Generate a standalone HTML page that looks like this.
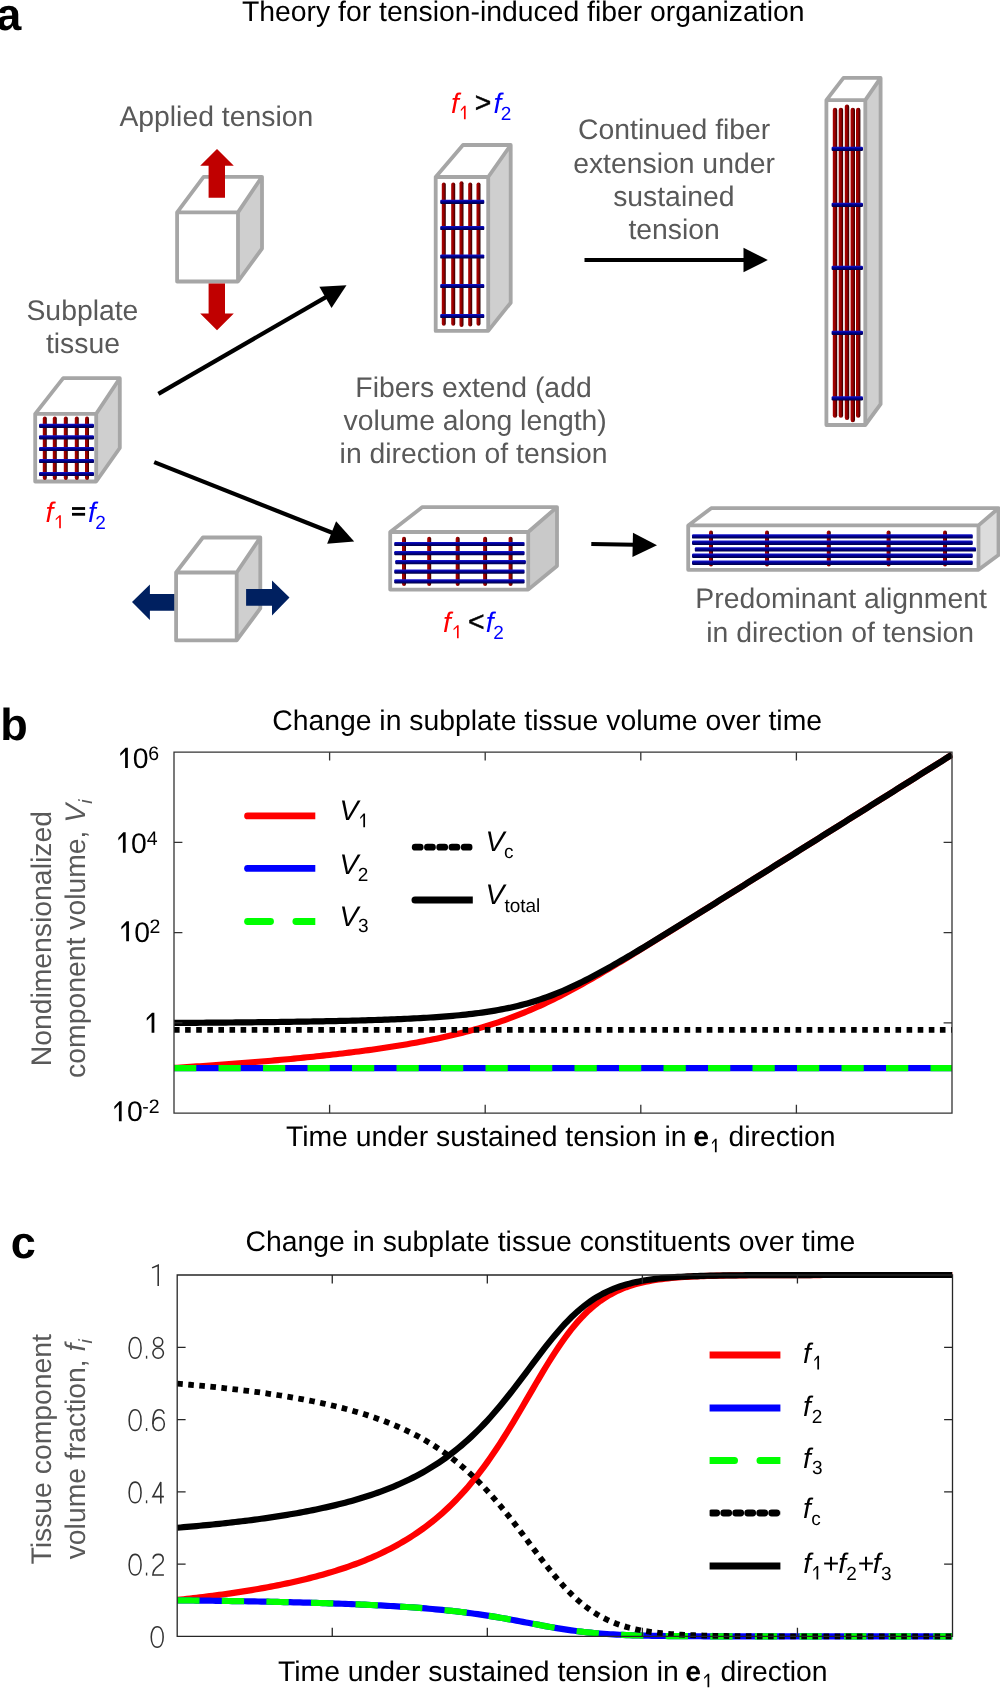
<!DOCTYPE html>
<html><head><meta charset="utf-8"><title>Figure</title>
<style>
html,body{margin:0;padding:0;background:#fff;}
svg{display:block;font-family:"Liberation Sans", sans-serif;will-change:transform;text-rendering:geometricPrecision;}
</style></head>
<body>
<svg width="1000" height="1688" viewBox="0 0 1000 1688">
<rect width="1000" height="1688" fill="#fff"/>
<defs>
<linearGradient id="gr" x1="0" y1="0" x2="1" y2="0">
<stop offset="0" stop-color="#a00000"/><stop offset="0.3" stop-color="#a80000"/><stop offset="0.65" stop-color="#7a0000"/><stop offset="1" stop-color="#2a0000"/>
</linearGradient>
<linearGradient id="gb" x1="0" y1="0" x2="0" y2="1">
<stop offset="0" stop-color="#1818d0"/><stop offset="0.4" stop-color="#00009a"/><stop offset="1" stop-color="#000040"/>
</linearGradient>
</defs>
<text x="-3.7" y="30.2" font-size="45" fill="#000" font-weight="bold">a</text>
<text x="242.03" y="21" font-size="28.35" fill="#000">Theory for tension-induced fiber organization</text>
<text x="119.4" y="125.5" font-size="28.35" fill="#595959">Applied tension</text>
<text x="578.08" y="138.6" font-size="28.35" fill="#595959">Continued fiber</text>
<text x="573.17" y="172.6" font-size="28.35" fill="#595959">extension under</text>
<text x="613.15" y="205.8" font-size="28.35" fill="#595959">sustained</text>
<text x="628.43" y="239.1" font-size="28.35" fill="#595959">tension</text>
<text x="26.48" y="320.4" font-size="28.35" fill="#595959">Subplate</text>
<text x="45.93" y="353.3" font-size="28.35" fill="#595959">tissue</text>
<text x="355.33" y="397.3" font-size="28.35" fill="#595959">Fibers extend (add</text>
<text x="343.62" y="430.4" font-size="28.35" fill="#595959">volume along length)</text>
<text x="339.62" y="463.2" font-size="28.35" fill="#595959">in direction of tension</text>
<text x="695.33" y="608.2" font-size="28.35" fill="#595959">Predominant alignment</text>
<text x="706.22" y="641.8" font-size="28.35" fill="#595959">in direction of tension</text>
<text x="451.04" y="112.5" font-size="28.35" fill="#ff0000" font-style="italic">f</text>
<polygon points="465.65,119.15 465.65,105.85 464.2,105.85 460.85,109.44 460.85,111.14 463.95,107.95 463.95,119.15" fill="#ff0000"/>
<text x="474.8" y="111.7" font-size="28.35" fill="#000" stroke="#000" stroke-width="0.45">&gt;</text>
<text x="493.54" y="112.5" font-size="28.35" fill="#0000ff" font-style="italic">f</text>
<text x="500.84" y="119.5" font-size="19" fill="#0000ff">2</text>
<text x="45.54" y="522" font-size="28.35" fill="#ff0000" font-style="italic">f</text>
<polygon points="60.85,528.15 60.85,515.15 59.44,515.15 55.75,518.66 55.75,520.32 59.19,517.2 59.19,528.15" fill="#ff0000"/>
<rect x="72" y="507.1" width="13.1" height="2.8" fill="#000"/>
<rect x="72" y="512.9" width="13.1" height="2.8" fill="#000"/>
<text x="88.04" y="522" font-size="28.35" fill="#0000ff" font-style="italic">f</text>
<text x="95.34" y="528.5" font-size="19" fill="#0000ff">2</text>
<text x="443.04" y="632" font-size="28.35" fill="#ff0000" font-style="italic">f</text>
<polygon points="458.65,638.15 458.65,625.15 457.24,625.15 453.55,628.66 453.55,630.32 456.99,627.2 456.99,638.15" fill="#ff0000"/>
<text x="468" y="631.2" font-size="28.35" fill="#000" stroke="#000" stroke-width="0.45">&lt;</text>
<text x="485.84" y="632" font-size="28.35" fill="#0000ff" font-style="italic">f</text>
<text x="493.14" y="638.5" font-size="19" fill="#0000ff">2</text>
<polygon points="177.1,212.4 203.6,176.8 262,176.8 238,212.4" fill="#fff"/>
<polygon points="238,212.4 262,176.8 262,248.6 238,281.5" fill="#cfcfcf"/>
<rect x="177.1" y="212.4" width="60.9" height="69.1" fill="#fff"/>
<path d="M177.1,281.5 L177.1,212.4 L203.6,176.8 L262,176.8 L262,248.6 L238,281.5 Z M177.1,212.4 L238,212.4 L238,281.5 M238,212.4 L262,176.8" fill="none" stroke="#a6a6a6" stroke-width="3.8" stroke-linejoin="round"/>
<polygon points="217,149 233.8,165.8 225,165.8 225,197.8 208.6,197.8 208.6,165.8 200.2,165.8" fill="#c00000"/>
<polygon points="208.6,283.4 225,283.4 225,313.4 233.8,313.4 217,330.2 200.2,313.4 208.6,313.4" fill="#c00000"/>
<polygon points="35.2,413.8 63.2,378.2 119.8,378.2 96.2,413.8" fill="#fff"/>
<polygon points="96.2,413.8 119.8,378.2 119.8,448 96.2,481.5" fill="#cfcfcf"/>
<rect x="35.2" y="413.8" width="61" height="67.7" fill="#fff"/>
<path d="M35.2,481.5 L35.2,413.8 L63.2,378.2 L119.8,378.2 L119.8,448 L96.2,481.5 Z M35.2,413.8 L96.2,413.8 L96.2,481.5 M96.2,413.8 L119.8,378.2" fill="none" stroke="#a6a6a6" stroke-width="3.8" stroke-linejoin="round"/>
<rect x="42.8" y="416.5" width="4" height="63.5" rx="2" fill="url(#gr)"/>
<rect x="52.8" y="416.5" width="4" height="63.5" rx="2" fill="url(#gr)"/>
<rect x="63.8" y="416.5" width="4" height="63.5" rx="2" fill="url(#gr)"/>
<rect x="74.8" y="416.5" width="4" height="63.5" rx="2" fill="url(#gr)"/>
<rect x="85" y="416.5" width="4" height="63.5" rx="2" fill="url(#gr)"/>
<rect x="39" y="423.7" width="55" height="4.2" rx="1.2" fill="url(#gb)"/>
<rect x="39" y="435.2" width="55" height="4.2" rx="1.2" fill="url(#gb)"/>
<rect x="39" y="446.9" width="55" height="4.2" rx="1.2" fill="url(#gb)"/>
<rect x="39" y="458.9" width="55" height="4.2" rx="1.2" fill="url(#gb)"/>
<rect x="39" y="471.9" width="55" height="4.2" rx="1.2" fill="url(#gb)"/>
<polygon points="435.7,177 463,145 510.7,145 488.2,177" fill="#fff"/>
<polygon points="488.2,177 510.7,145 510.7,302.7 488.2,330.9" fill="#cfcfcf"/>
<rect x="435.7" y="177" width="52.5" height="153.9" fill="#fff"/>
<path d="M435.7,330.9 L435.7,177 L463,145 L510.7,145 L510.7,302.7 L488.2,330.9 Z M435.7,177 L488.2,177 L488.2,330.9 M488.2,177 L510.7,145" fill="none" stroke="#a6a6a6" stroke-width="3.8" stroke-linejoin="round"/>
<rect x="441.8" y="182.4" width="4" height="143.4" rx="2" fill="url(#gr)"/>
<rect x="451.2" y="182.4" width="4" height="143.4" rx="2" fill="url(#gr)"/>
<rect x="459.5" y="181.2" width="4" height="145.8" rx="2" fill="url(#gr)"/>
<rect x="468.2" y="182.4" width="4" height="144.1" rx="2" fill="url(#gr)"/>
<rect x="476.5" y="182.4" width="4" height="143.4" rx="2" fill="url(#gr)"/>
<rect x="440.2" y="199.7" width="44.1" height="4.2" rx="1.2" fill="url(#gb)"/>
<rect x="440.2" y="225.9" width="44.1" height="4.2" rx="1.2" fill="url(#gb)"/>
<rect x="440.2" y="254.4" width="44.1" height="4.2" rx="1.2" fill="url(#gb)"/>
<rect x="440.2" y="283.9" width="44.1" height="4.2" rx="1.2" fill="url(#gb)"/>
<rect x="440.2" y="313.9" width="44.1" height="4.2" rx="1.2" fill="url(#gb)"/>
<polygon points="826.4,100.1 843.5,77.9 880.6,77.9 865.3,100.1" fill="#fff"/>
<polygon points="865.3,100.1 880.6,77.9 880.6,404.2 865.3,425" fill="#cfcfcf"/>
<rect x="826.4" y="100.1" width="38.9" height="324.9" fill="#fff"/>
<path d="M826.4,425 L826.4,100.1 L843.5,77.9 L880.6,77.9 L880.6,404.2 L865.3,425 Z M826.4,100.1 L865.3,100.1 L865.3,425 M865.3,100.1 L880.6,77.9" fill="none" stroke="#a6a6a6" stroke-width="3.8" stroke-linejoin="round"/>
<rect x="832.8" y="107.8" width="4.4" height="309.9" rx="2.2" fill="url(#gr)"/>
<rect x="838.7" y="107.8" width="4.4" height="309.9" rx="2.2" fill="url(#gr)"/>
<rect x="844.8" y="104.5" width="4.4" height="315.5" rx="2.2" fill="url(#gr)"/>
<rect x="850.6" y="107.8" width="4.4" height="314.4" rx="2.2" fill="url(#gr)"/>
<rect x="856" y="107.8" width="4.4" height="309.9" rx="2.2" fill="url(#gr)"/>
<rect x="831.6" y="146.8" width="31.4" height="4.2" rx="1.2" fill="url(#gb)"/>
<rect x="831.6" y="202.7" width="31.4" height="4.2" rx="1.2" fill="url(#gb)"/>
<rect x="831.6" y="265.8" width="31.4" height="4.2" rx="1.2" fill="url(#gb)"/>
<rect x="831.6" y="330.7" width="31.4" height="4.2" rx="1.2" fill="url(#gb)"/>
<rect x="831.6" y="396.3" width="31.4" height="4.2" rx="1.2" fill="url(#gb)"/>
<polygon points="390.2,532 422.4,507.1 557,507.1 528.2,532" fill="#fff"/>
<polygon points="528.2,532 557,507.1 557,566 528.2,589.6" fill="#c9c9c9"/>
<rect x="390.2" y="532" width="138" height="57.6" fill="#fff"/>
<path d="M390.2,589.6 L390.2,532 L422.4,507.1 L557,507.1 L557,566 L528.2,589.6 Z M390.2,532 L528.2,532 L528.2,589.6 M528.2,532 L557,507.1" fill="none" stroke="#a6a6a6" stroke-width="3.8" stroke-linejoin="round"/>
<rect x="402" y="536.8" width="4" height="49.2" rx="2" fill="url(#gr)"/>
<rect x="427.2" y="536.8" width="4" height="49.2" rx="2" fill="url(#gr)"/>
<rect x="455.7" y="536.8" width="4" height="49.2" rx="2" fill="url(#gr)"/>
<rect x="483.1" y="536.8" width="4" height="49.2" rx="2" fill="url(#gr)"/>
<rect x="508.6" y="536.8" width="4" height="49.2" rx="2" fill="url(#gr)"/>
<rect x="394.2" y="541.9" width="130.4" height="4.2" rx="1.2" fill="url(#gb)"/>
<rect x="394.2" y="551.1" width="130.4" height="4.2" rx="1.2" fill="url(#gb)"/>
<rect x="395.2" y="560.1" width="130.7" height="4.2" rx="1.2" fill="url(#gb)"/>
<rect x="394.2" y="569.5" width="130.4" height="4.2" rx="1.2" fill="url(#gb)"/>
<rect x="394.2" y="579.3" width="130.4" height="4.2" rx="1.2" fill="url(#gb)"/>
<polygon points="688.2,525.4 711.2,508.2 998.5,508.2 978.5,525.4" fill="#fff"/>
<polygon points="978.5,525.4 998.5,508.2 998.5,555 978.5,569.8" fill="#dcdcdc"/>
<rect x="688.2" y="525.4" width="290.3" height="44.4" fill="#fff"/>
<path d="M688.2,569.8 L688.2,525.4 L711.2,508.2 L998.5,508.2 L998.5,555 L978.5,569.8 Z M688.2,525.4 L978.5,525.4 L978.5,569.8 M978.5,525.4 L998.5,508.2" fill="none" stroke="#a6a6a6" stroke-width="3.8" stroke-linejoin="round"/>
<rect x="709" y="530.4" width="4" height="36.1" rx="2" fill="url(#gr)"/>
<rect x="765" y="530.4" width="4" height="36.1" rx="2" fill="url(#gr)"/>
<rect x="826.8" y="530.4" width="4" height="36.1" rx="2" fill="url(#gr)"/>
<rect x="886.6" y="530.4" width="4" height="36.1" rx="2" fill="url(#gr)"/>
<rect x="943" y="530.4" width="4" height="36.1" rx="2" fill="url(#gr)"/>
<rect x="692" y="534.2" width="280.8" height="4.4" rx="1.2" fill="url(#gb)"/>
<rect x="692" y="540.6" width="280.8" height="4.4" rx="1.2" fill="url(#gb)"/>
<rect x="694.8" y="547.2" width="281.2" height="4.4" rx="1.2" fill="url(#gb)"/>
<rect x="692" y="553.6" width="280.8" height="4.4" rx="1.2" fill="url(#gb)"/>
<rect x="692" y="560.6" width="280.8" height="4.4" rx="1.2" fill="url(#gb)"/>
<polygon points="132,601.9 149.9,584.4 149.9,593.9 178,593.9 178,610.7 149.9,610.7 149.9,620.1" fill="#002060"/>
<polygon points="176.1,572.5 202.9,537.5 260.3,537.5 236.7,572.5" fill="#fff"/>
<polygon points="236.7,572.5 260.3,537.5 260.3,608.4 236.7,640.4" fill="#cfcfcf"/>
<rect x="176.1" y="572.5" width="60.6" height="67.9" fill="#fff"/>
<path d="M176.1,640.4 L176.1,572.5 L202.9,537.5 L260.3,537.5 L260.3,608.4 L236.7,640.4 Z M176.1,572.5 L236.7,572.5 L236.7,640.4 M236.7,572.5 L260.3,537.5" fill="none" stroke="#a6a6a6" stroke-width="3.8" stroke-linejoin="round"/>
<polygon points="246.1,589.1 272,589.1 272,580.4 289.5,597.5 272,615.4 272,605.8 246.1,605.8" fill="#002060"/>
<line x1="158.4" y1="393.9" x2="327.19" y2="296.36" stroke="#000" stroke-width="4.2"/>
<polygon points="346.5,285.2 331.54,307.88 319.38,286.84" fill="#000"/>
<line x1="154.2" y1="462.1" x2="333.47" y2="533.27" stroke="#000" stroke-width="4.2"/>
<polygon points="354.2,541.5 327.13,543.83 336.1,521.24" fill="#000"/>
<line x1="584.5" y1="260" x2="745.5" y2="260" stroke="#000" stroke-width="4.2"/>
<polygon points="767.8,260 743.5,272.15 743.5,247.85" fill="#000"/>
<line x1="591.3" y1="543.9" x2="634.71" y2="544.82" stroke="#000" stroke-width="4.0"/>
<polygon points="657,545.3 632.45,556.93 632.96,532.64" fill="#000"/>
<text x="0.33" y="740.2" font-size="45" fill="#000" font-weight="bold">b</text>
<text x="272.18" y="729.5" font-size="28.35" fill="#000">Change in subplate tissue volume over time</text>
<clipPath id="cb"><rect x="174.0" y="751.7" width="778.5" height="362.0"/></clipPath>
<g clip-path="url(#cb)">
<path d="M174,1067.89 L177.24,1067.69 L180.48,1067.48 L183.72,1067.27 L186.97,1067.06 L190.21,1066.84 L193.45,1066.63 L196.69,1066.41 L199.93,1066.19 L203.18,1065.96 L206.42,1065.74 L209.66,1065.51 L212.9,1065.28 L216.14,1065.05 L219.38,1064.82 L222.62,1064.58 L225.87,1064.34 L229.11,1064.1 L232.35,1063.85 L235.59,1063.6 L238.83,1063.35 L242.07,1063.1 L245.32,1062.84 L248.56,1062.59 L251.8,1062.32 L255.04,1062.06 L258.28,1061.79 L261.52,1061.52 L264.77,1061.24 L268.01,1060.96 L271.25,1060.68 L274.49,1060.4 L277.73,1060.11 L280.98,1059.82 L284.22,1059.52 L287.46,1059.22 L290.7,1058.92 L293.94,1058.61 L297.18,1058.29 L300.43,1057.98 L303.67,1057.66 L306.91,1057.33 L310.15,1057 L313.39,1056.67 L316.63,1056.33 L319.88,1055.98 L323.12,1055.63 L326.36,1055.28 L329.6,1054.92 L332.84,1054.55 L336.08,1054.18 L339.32,1053.8 L342.57,1053.42 L345.81,1053.03 L349.05,1052.63 L352.29,1052.23 L355.53,1051.82 L358.77,1051.4 L362.02,1050.98 L365.26,1050.55 L368.5,1050.11 L371.74,1049.67 L374.98,1049.21 L378.23,1048.75 L381.47,1048.28 L384.71,1047.8 L387.95,1047.31 L391.19,1046.81 L394.43,1046.3 L397.67,1045.79 L400.92,1045.26 L404.16,1044.72 L407.4,1044.17 L410.64,1043.61 L413.88,1043.03 L417.12,1042.45 L420.37,1041.85 L423.61,1041.24 L426.85,1040.61 L430.09,1039.97 L433.33,1039.32 L436.58,1038.65 L439.82,1037.96 L443.06,1037.26 L446.3,1036.55 L449.54,1035.81 L452.78,1035.06 L456.02,1034.29 L459.27,1033.5 L462.51,1032.69 L465.75,1031.86 L468.99,1031.01 L472.23,1030.13 L475.48,1029.24 L478.72,1028.32 L481.96,1027.37 L485.2,1026.41 L488.44,1025.41 L491.68,1024.39 L494.92,1023.35 L498.17,1022.27 L501.41,1021.17 L504.65,1020.04 L507.89,1018.88 L511.13,1017.69 L514.38,1016.47 L517.62,1015.22 L520.86,1013.94 L524.1,1012.63 L527.34,1011.29 L530.58,1009.91 L533.83,1008.51 L537.07,1007.07 L540.31,1005.6 L543.55,1004.11 L546.79,1002.58 L550.03,1001.02 L553.27,999.44 L556.52,997.82 L559.76,996.18 L563,994.52 L566.24,992.82 L569.48,991.11 L572.72,989.37 L575.97,987.61 L579.21,985.83 L582.45,984.03 L585.69,982.21 L588.93,980.37 L592.17,978.52 L595.42,976.66 L598.66,974.77 L601.9,972.88 L605.14,970.97 L608.38,969.06 L611.62,967.13 L614.87,965.19 L618.11,963.25 L621.35,961.29 L624.59,959.33 L627.83,957.36 L631.08,955.39 L634.32,953.41 L637.56,951.43 L640.8,949.44 L644.04,947.44 L647.28,945.45 L650.53,943.45 L653.77,941.44 L657.01,939.44 L660.25,937.43 L663.49,935.42 L666.73,933.4 L669.97,931.39 L673.22,929.37 L676.46,927.35 L679.7,925.33 L682.94,923.31 L686.18,921.29 L689.42,919.26 L692.67,917.24 L695.91,915.21 L699.15,913.19 L702.39,911.16 L705.63,909.13 L708.88,907.11 L712.12,905.08 L715.36,903.05 L718.6,901.02 L721.84,898.99 L725.08,896.96 L728.33,894.93 L731.57,892.9 L734.81,890.87 L738.05,888.84 L741.29,886.8 L744.53,884.77 L747.78,882.74 L751.02,880.71 L754.26,878.68 L757.5,876.64 L760.74,874.61 L763.98,872.58 L767.22,870.55 L770.47,868.51 L773.71,866.48 L776.95,864.45 L780.19,862.42 L783.43,860.38 L786.67,858.35 L789.92,856.32 L793.16,854.29 L796.4,852.25 L799.64,850.22 L802.88,848.19 L806.12,846.15 L809.37,844.12 L812.61,842.09 L815.85,840.05 L819.09,838.02 L822.33,835.99 L825.58,833.96 L828.82,831.92 L832.06,829.89 L835.3,827.86 L838.54,825.82 L841.78,823.79 L845.03,821.76 L848.27,819.72 L851.51,817.69 L854.75,815.66 L857.99,813.62 L861.23,811.59 L864.47,809.56 L867.72,807.52 L870.96,805.49 L874.2,803.46 L877.44,801.42 L880.68,799.39 L883.92,797.36 L887.17,795.32 L890.41,793.29 L893.65,791.26 L896.89,789.22 L900.13,787.19 L903.38,785.16 L906.62,783.13 L909.86,781.09 L913.1,779.06 L916.34,777.03 L919.58,774.99 L922.83,772.96 L926.07,770.93 L929.31,768.89 L932.55,766.86 L935.79,764.83 L939.03,762.79 L942.28,760.76 L945.52,758.73 L948.76,756.69 L952,754.66" fill="none" stroke="#ff0000" stroke-width="6.1"/>
<line x1="174.0" y1="1068.08" x2="952.0" y2="1068.08" stroke="#0000ff" stroke-width="6.2"/>
<line x1="174.0" y1="1068.08" x2="952.0" y2="1068.08" stroke="#00ff00" stroke-width="6.2" stroke-dasharray="22.25 22.25"/>
<line x1="174.0" y1="1029.94" x2="952.0" y2="1029.94" stroke="#000" stroke-width="5.8" stroke-dasharray="5.6 5.5"/>
<path d="M174,1022.93 L177.24,1022.91 L180.48,1022.89 L183.72,1022.87 L186.97,1022.85 L190.21,1022.82 L193.45,1022.8 L196.69,1022.78 L199.93,1022.75 L203.18,1022.73 L206.42,1022.7 L209.66,1022.68 L212.9,1022.65 L216.14,1022.63 L219.38,1022.6 L222.62,1022.57 L225.87,1022.54 L229.11,1022.51 L232.35,1022.48 L235.59,1022.45 L238.83,1022.42 L242.07,1022.39 L245.32,1022.36 L248.56,1022.33 L251.8,1022.29 L255.04,1022.26 L258.28,1022.22 L261.52,1022.19 L264.77,1022.15 L268.01,1022.11 L271.25,1022.07 L274.49,1022.03 L277.73,1021.99 L280.98,1021.95 L284.22,1021.91 L287.46,1021.86 L290.7,1021.82 L293.94,1021.77 L297.18,1021.72 L300.43,1021.67 L303.67,1021.62 L306.91,1021.57 L310.15,1021.52 L313.39,1021.46 L316.63,1021.4 L319.88,1021.34 L323.12,1021.28 L326.36,1021.22 L329.6,1021.16 L332.84,1021.09 L336.08,1021.03 L339.32,1020.96 L342.57,1020.88 L345.81,1020.81 L349.05,1020.73 L352.29,1020.65 L355.53,1020.57 L358.77,1020.48 L362.02,1020.4 L365.26,1020.3 L368.5,1020.21 L371.74,1020.11 L374.98,1020.01 L378.23,1019.91 L381.47,1019.8 L384.71,1019.68 L387.95,1019.57 L391.19,1019.44 L394.43,1019.32 L397.67,1019.18 L400.92,1019.05 L404.16,1018.9 L407.4,1018.76 L410.64,1018.6 L413.88,1018.44 L417.12,1018.27 L420.37,1018.09 L423.61,1017.91 L426.85,1017.72 L430.09,1017.52 L433.33,1017.31 L436.58,1017.09 L439.82,1016.86 L443.06,1016.61 L446.3,1016.36 L449.54,1016.1 L452.78,1015.82 L456.02,1015.52 L459.27,1015.22 L462.51,1014.89 L465.75,1014.56 L468.99,1014.2 L472.23,1013.82 L475.48,1013.43 L478.72,1013.01 L481.96,1012.58 L485.2,1012.11 L488.44,1011.63 L491.68,1011.12 L494.92,1010.58 L498.17,1010.01 L501.41,1009.42 L504.65,1008.79 L507.89,1008.13 L511.13,1007.43 L514.38,1006.7 L517.62,1005.93 L520.86,1005.12 L524.1,1004.28 L527.34,1003.39 L530.58,1002.46 L533.83,1001.49 L537.07,1000.47 L540.31,999.41 L543.55,998.31 L546.79,997.16 L550.03,995.97 L553.27,994.73 L556.52,993.45 L559.76,992.13 L563,990.76 L566.24,989.36 L569.48,987.91 L572.72,986.42 L575.97,984.9 L579.21,983.34 L582.45,981.75 L585.69,980.12 L588.93,978.46 L592.17,976.77 L595.42,975.06 L598.66,973.32 L601.9,971.56 L605.14,969.77 L608.38,967.96 L611.62,966.13 L614.87,964.29 L618.11,962.42 L621.35,960.55 L624.59,958.66 L627.83,956.75 L631.08,954.84 L634.32,952.91 L637.56,950.97 L640.8,949.03 L644.04,947.07 L647.28,945.11 L650.53,943.14 L653.77,941.17 L657.01,939.19 L660.25,937.2 L663.49,935.21 L666.73,933.22 L669.97,931.22 L673.22,929.22 L676.46,927.22 L679.7,925.21 L682.94,923.2 L686.18,921.19 L689.42,919.18 L692.67,917.16 L695.91,915.14 L699.15,913.12 L702.39,911.1 L705.63,909.08 L708.88,907.06 L712.12,905.03 L715.36,903.01 L718.6,900.98 L721.84,898.96 L725.08,896.93 L728.33,894.9 L731.57,892.87 L734.81,890.85 L738.05,888.82 L741.29,886.79 L744.53,884.76 L747.78,882.73 L751.02,880.7 L754.26,878.67 L757.5,876.63 L760.74,874.6 L763.98,872.57 L767.22,870.54 L770.47,868.51 L773.71,866.48 L776.95,864.44 L780.19,862.41 L783.43,860.38 L786.67,858.35 L789.92,856.31 L793.16,854.28 L796.4,852.25 L799.64,850.22 L802.88,848.18 L806.12,846.15 L809.37,844.12 L812.61,842.09 L815.85,840.05 L819.09,838.02 L822.33,835.99 L825.58,833.95 L828.82,831.92 L832.06,829.89 L835.3,827.85 L838.54,825.82 L841.78,823.79 L845.03,821.76 L848.27,819.72 L851.51,817.69 L854.75,815.66 L857.99,813.62 L861.23,811.59 L864.47,809.56 L867.72,807.52 L870.96,805.49 L874.2,803.46 L877.44,801.42 L880.68,799.39 L883.92,797.36 L887.17,795.32 L890.41,793.29 L893.65,791.26 L896.89,789.22 L900.13,787.19 L903.38,785.16 L906.62,783.12 L909.86,781.09 L913.1,779.06 L916.34,777.03 L919.58,774.99 L922.83,772.96 L926.07,770.93 L929.31,768.89 L932.55,766.86 L935.79,764.83 L939.03,762.79 L942.28,760.76 L945.52,758.73 L948.76,756.69 L952,754.66" fill="none" stroke="#000" stroke-width="6.2"/>
</g>
<path d="M174.0,752.2 H952.0 V1113.2 H174.0 Z" fill="none" stroke="#333" stroke-width="1.3"/>
<path d="M329.6,1113.2 v-8.4 M329.6,752.2 v8.4 M485.2,1113.2 v-8.4 M485.2,752.2 v8.4 M640.8,1113.2 v-8.4 M640.8,752.2 v8.4 M796.4,1113.2 v-8.4 M796.4,752.2 v8.4 M174.0,842.45 h8.4 M952.0,842.45 h-8.4 M174.0,932.7 h8.4 M952.0,932.7 h-8.4 M174.0,1022.95 h8.4 M952.0,1022.95 h-8.4 " stroke="#333" stroke-width="1.3" fill="none"/>
<polygon points="127.85,768.05 127.85,747.85 125.51,747.85 120.25,753.3 120.25,756.05 125.1,751.21 125.1,768.05" fill="#000"/>
<text x="132.79" y="768.2" font-size="28.35" fill="#000">0</text>
<text x="148.31" y="759.5" font-size="19.5" fill="#000">6</text>
<polygon points="125.65,852.65 125.65,832.35 123.31,832.35 118.35,837.83 118.35,840.58 122.9,835.71 122.9,852.65" fill="#000"/>
<text x="130.89" y="853" font-size="28.35" fill="#000">0</text>
<text x="146.65" y="844.5" font-size="19.5" fill="#000">4</text>
<polygon points="128.95,941.15 128.95,921.35 126.61,921.35 121.35,926.7 121.35,929.45 126.2,924.69 126.2,941.15" fill="#000"/>
<text x="134.14" y="941.5" font-size="28.35" fill="#000">0</text>
<text x="149.52" y="932.7" font-size="19.5" fill="#000">2</text>
<polygon points="121.65,1121.15 121.65,1101.25 119.31,1101.25 114.35,1106.62 114.35,1109.37 118.9,1104.6 118.9,1121.15" fill="#000"/>
<text x="126.99" y="1121.3" font-size="28.35" fill="#000">0</text>
<text x="142.33" y="1112.7" font-size="19.5" fill="#000">-2</text>
<polygon points="154.35,1032.65 154.35,1012.65 152.01,1012.65 146.75,1018.05 146.75,1020.8 151.6,1016 151.6,1032.65" fill="#000"/>
<text transform="translate(51.2,938.7) rotate(-90)" x="0" y="0" font-size="28.35" fill="#595959" text-anchor="middle">Nondimensionalized</text>
<text transform="translate(85.4,938.7) rotate(-90)" x="0" y="0" font-size="28.35" fill="#595959" text-anchor="middle">component volume, <tspan font-style="italic">V</tspan><tspan font-style="italic" font-size="19.0" dy="6.6">i</tspan></text>
<text x="285.93" y="1146.2" font-size="28.35" fill="#000">Time under sustained tension in</text>
<text x="693.29" y="1146.2" font-size="28.35" fill="#000" font-weight="bold">e</text>
<polygon points="716.65,1152.35 716.65,1138.85 715.18,1138.85 711.95,1142.49 711.95,1144.22 714.92,1140.98 714.92,1152.35" fill="#000"/>
<text x="728.47" y="1146.2" font-size="28.35" fill="#000">direction</text>
<clipPath id="lb1"><rect x="230" y="790" width="85.3" height="150"/></clipPath>
<clipPath id="lb2"><rect x="400" y="830" width="72.8" height="90"/></clipPath>
<g clip-path="url(#lb1)" stroke-linecap="round" stroke-width="6.9" fill="none">
<line x1="247.6" y1="815.9" x2="330" y2="815.9" stroke="#ff0000"/>
<line x1="247.6" y1="868.4" x2="330" y2="868.4" stroke="#0000ff"/>
<line x1="247.6" y1="921.5" x2="330" y2="921.5" stroke="#00ff00" stroke-dasharray="22.9 25.4"/>
</g>
<g clip-path="url(#lb2)" stroke-width="7" fill="none">
<line x1="415.2" y1="847.2" x2="469.3" y2="847.2" stroke="#000" stroke-width="6.8" stroke-linecap="round" stroke-dasharray="5 7.25"/>
<line x1="415" y1="900" x2="480" y2="900" stroke="#000" stroke-linecap="round"/>
</g>
<text x="339.55" y="820.4" font-size="28.35" fill="#000" font-style="italic">V</text>
<polygon points="365.05,827.25 365.05,813.55 363.56,813.55 360.25,817.25 360.25,819 363.3,815.71 363.3,827.25" fill="#000"/>
<text x="339.55" y="874" font-size="28.35" fill="#000" font-style="italic">V</text>
<text x="357.84" y="880.9" font-size="19" fill="#000">2</text>
<text x="339.55" y="926" font-size="28.35" fill="#000" font-style="italic">V</text>
<text x="358.08" y="932" font-size="19" fill="#000">3</text>
<text x="485.55" y="850.7" font-size="28.35" fill="#000" font-style="italic">V</text>
<text x="503.99" y="858" font-size="19" fill="#000">c</text>
<text x="485.55" y="904" font-size="28.35" fill="#000" font-style="italic">V</text>
<text x="504.42" y="911.5" font-size="19" fill="#000">total</text>
<text x="10.8" y="1258" font-size="45" fill="#000" font-weight="bold">c</text>
<text x="245.58" y="1251.2" font-size="28.35" fill="#000">Change in subplate tissue constituents over time</text>
<clipPath id="cc"><rect x="177.2" y="1271.0" width="775.3" height="369.4000000000001"/></clipPath>
<g clip-path="url(#cc)">
<path d="M177.2,1599.96 L180.43,1599.61 L183.66,1599.26 L186.89,1598.9 L190.12,1598.53 L193.35,1598.16 L196.58,1597.78 L199.81,1597.4 L203.04,1597 L206.27,1596.6 L209.5,1596.2 L212.73,1595.78 L215.96,1595.35 L219.2,1594.92 L222.43,1594.48 L225.66,1594.03 L228.89,1593.57 L232.12,1593.1 L235.35,1592.62 L238.58,1592.13 L241.81,1591.64 L245.04,1591.13 L248.27,1590.61 L251.5,1590.07 L254.73,1589.53 L257.96,1588.98 L261.19,1588.41 L264.42,1587.83 L267.65,1587.24 L270.88,1586.63 L274.11,1586.01 L277.34,1585.38 L280.57,1584.73 L283.8,1584.06 L287.03,1583.38 L290.26,1582.68 L293.5,1581.97 L296.73,1581.24 L299.96,1580.49 L303.19,1579.72 L306.42,1578.93 L309.65,1578.13 L312.88,1577.3 L316.11,1576.45 L319.34,1575.58 L322.57,1574.68 L325.8,1573.76 L329.03,1572.82 L332.26,1571.85 L335.49,1570.85 L338.72,1569.83 L341.95,1568.78 L345.18,1567.7 L348.41,1566.58 L351.64,1565.44 L354.87,1564.26 L358.1,1563.05 L361.33,1561.8 L364.56,1560.51 L367.79,1559.18 L371.02,1557.82 L374.26,1556.41 L377.49,1554.96 L380.72,1553.46 L383.95,1551.91 L387.18,1550.32 L390.41,1548.67 L393.64,1546.97 L396.87,1545.21 L400.1,1543.4 L403.33,1541.53 L406.56,1539.59 L409.79,1537.58 L413.02,1535.51 L416.25,1533.37 L419.48,1531.16 L422.71,1528.86 L425.94,1526.49 L429.17,1524.03 L432.4,1521.49 L435.63,1518.86 L438.86,1516.14 L442.09,1513.32 L445.32,1510.4 L448.55,1507.38 L451.79,1504.26 L455.02,1501.02 L458.25,1497.68 L461.48,1494.21 L464.71,1490.63 L467.94,1486.93 L471.17,1483.11 L474.4,1479.16 L477.63,1475.09 L480.86,1470.89 L484.09,1466.57 L487.32,1462.11 L490.55,1457.54 L493.78,1452.84 L497.01,1448.02 L500.24,1443.09 L503.47,1438.04 L506.7,1432.9 L509.93,1427.66 L513.16,1422.33 L516.39,1416.93 L519.62,1411.48 L522.85,1405.97 L526.09,1400.43 L529.32,1394.88 L532.55,1389.33 L535.78,1383.8 L539.01,1378.31 L542.24,1372.87 L545.47,1367.51 L548.7,1362.25 L551.93,1357.1 L555.16,1352.08 L558.39,1347.21 L561.62,1342.49 L564.85,1337.95 L568.08,1333.59 L571.31,1329.42 L574.54,1325.44 L577.77,1321.67 L581,1318.1 L584.23,1314.73 L587.46,1311.57 L590.69,1308.6 L593.92,1305.83 L597.15,1303.25 L600.38,1300.85 L603.62,1298.62 L606.85,1296.56 L610.08,1294.66 L613.31,1292.91 L616.54,1291.3 L619.77,1289.82 L623,1288.47 L626.23,1287.23 L629.46,1286.1 L632.69,1285.06 L635.92,1284.12 L639.15,1283.26 L642.38,1282.48 L645.61,1281.77 L648.84,1281.13 L652.07,1280.54 L655.3,1280.01 L658.53,1279.53 L661.76,1279.09 L664.99,1278.7 L668.22,1278.34 L671.45,1278.02 L674.68,1277.72 L677.91,1277.46 L681.14,1277.22 L684.38,1277 L687.61,1276.81 L690.84,1276.63 L694.07,1276.47 L697.3,1276.33 L700.53,1276.2 L703.76,1276.08 L706.99,1275.97 L710.22,1275.88 L713.45,1275.79 L716.68,1275.71 L719.91,1275.64 L723.14,1275.58 L726.37,1275.52 L729.6,1275.47 L732.83,1275.43 L736.06,1275.38 L739.29,1275.35 L742.52,1275.31 L745.75,1275.28 L748.98,1275.25 L752.21,1275.23 L755.44,1275.21 L758.67,1275.19 L761.91,1275.17 L765.14,1275.15 L768.37,1275.14 L771.6,1275.12 L774.83,1275.11 L778.06,1275.1 L781.29,1275.09 L784.52,1275.08 L787.75,1275.07 L790.98,1275.07 L794.21,1275.06 L797.44,1275.05 L800.67,1275.05 L803.9,1275.04 L807.13,1275.04 L810.36,1275.04 L813.59,1275.03 L816.82,1275.03 L820.05,1275.03 L823.28,1275.02 L826.51,1275.02 L829.74,1275.02 L832.97,1275.02 L836.2,1275.02 L839.44,1275.01 L842.67,1275.01 L845.9,1275.01 L849.13,1275.01 L852.36,1275.01 L855.59,1275.01 L858.82,1275.01 L862.05,1275.01 L865.28,1275.01 L868.51,1275.01 L871.74,1275 L874.97,1275 L878.2,1275 L881.43,1275 L884.66,1275 L887.89,1275 L891.12,1275 L894.35,1275 L897.58,1275 L900.81,1275 L904.04,1275 L907.27,1275 L910.5,1275 L913.73,1275 L916.97,1275 L920.2,1275 L923.43,1275 L926.66,1275 L929.89,1275 L933.12,1275 L936.35,1275 L939.58,1275 L942.81,1275 L946.04,1275 L949.27,1275 L952.5,1275" fill="none" stroke="#ff0000" stroke-width="6.2"/>
<path d="M177.2,1600.29 L180.43,1600.33 L183.66,1600.37 L186.89,1600.41 L190.12,1600.45 L193.35,1600.49 L196.58,1600.54 L199.81,1600.58 L203.04,1600.62 L206.27,1600.67 L209.5,1600.71 L212.73,1600.76 L215.96,1600.81 L219.2,1600.85 L222.43,1600.9 L225.66,1600.95 L228.89,1601 L232.12,1601.06 L235.35,1601.11 L238.58,1601.16 L241.81,1601.22 L245.04,1601.27 L248.27,1601.33 L251.5,1601.39 L254.73,1601.45 L257.96,1601.51 L261.19,1601.58 L264.42,1601.64 L267.65,1601.71 L270.88,1601.77 L274.11,1601.84 L277.34,1601.91 L280.57,1601.99 L283.8,1602.06 L287.03,1602.14 L290.26,1602.21 L293.5,1602.29 L296.73,1602.37 L299.96,1602.46 L303.19,1602.54 L306.42,1602.63 L309.65,1602.72 L312.88,1602.81 L316.11,1602.91 L319.34,1603 L322.57,1603.1 L325.8,1603.2 L329.03,1603.31 L332.26,1603.42 L335.49,1603.53 L338.72,1603.64 L341.95,1603.76 L345.18,1603.88 L348.41,1604 L351.64,1604.13 L354.87,1604.26 L358.1,1604.39 L361.33,1604.53 L364.56,1604.68 L367.79,1604.82 L371.02,1604.98 L374.26,1605.13 L377.49,1605.29 L380.72,1605.46 L383.95,1605.63 L387.18,1605.81 L390.41,1605.99 L393.64,1606.18 L396.87,1606.38 L400.1,1606.58 L403.33,1606.79 L406.56,1607 L409.79,1607.22 L413.02,1607.45 L416.25,1607.69 L419.48,1607.94 L422.71,1608.19 L425.94,1608.46 L429.17,1608.73 L432.4,1609.01 L435.63,1609.3 L438.86,1609.61 L442.09,1609.92 L445.32,1610.24 L448.55,1610.58 L451.79,1610.93 L455.02,1611.29 L458.25,1611.66 L461.48,1612.04 L464.71,1612.44 L467.94,1612.85 L471.17,1613.28 L474.4,1613.72 L477.63,1614.17 L480.86,1614.63 L484.09,1615.11 L487.32,1615.61 L490.55,1616.12 L493.78,1616.64 L497.01,1617.18 L500.24,1617.72 L503.47,1618.28 L506.7,1618.86 L509.93,1619.44 L513.16,1620.03 L516.39,1620.63 L519.62,1621.24 L522.85,1621.85 L526.09,1622.46 L529.32,1623.08 L532.55,1623.7 L535.78,1624.31 L539.01,1624.92 L542.24,1625.53 L545.47,1626.12 L548.7,1626.71 L551.93,1627.28 L555.16,1627.84 L558.39,1628.38 L561.62,1628.9 L564.85,1629.41 L568.08,1629.89 L571.31,1630.35 L574.54,1630.8 L577.77,1631.21 L581,1631.61 L584.23,1631.99 L587.46,1632.34 L590.69,1632.67 L593.92,1632.97 L597.15,1633.26 L600.38,1633.53 L603.62,1633.78 L606.85,1634 L610.08,1634.22 L613.31,1634.41 L616.54,1634.59 L619.77,1634.75 L623,1634.9 L626.23,1635.04 L629.46,1635.17 L632.69,1635.28 L635.92,1635.39 L639.15,1635.48 L642.38,1635.57 L645.61,1635.65 L648.84,1635.72 L652.07,1635.78 L655.3,1635.84 L658.53,1635.9 L661.76,1635.95 L664.99,1635.99 L668.22,1636.03 L671.45,1636.06 L674.68,1636.1 L677.91,1636.13 L681.14,1636.15 L684.38,1636.18 L687.61,1636.2 L690.84,1636.22 L694.07,1636.24 L697.3,1636.25 L700.53,1636.27 L703.76,1636.28 L706.99,1636.29 L710.22,1636.3 L713.45,1636.31 L716.68,1636.32 L719.91,1636.33 L723.14,1636.34 L726.37,1636.34 L729.6,1636.35 L732.83,1636.35 L736.06,1636.36 L739.29,1636.36 L742.52,1636.37 L745.75,1636.37 L748.98,1636.37 L752.21,1636.37 L755.44,1636.38 L758.67,1636.38 L761.91,1636.38 L765.14,1636.38 L768.37,1636.38 L771.6,1636.39 L774.83,1636.39 L778.06,1636.39 L781.29,1636.39 L784.52,1636.39 L787.75,1636.39 L790.98,1636.39 L794.21,1636.39 L797.44,1636.39 L800.67,1636.39 L803.9,1636.4 L807.13,1636.4 L810.36,1636.4 L813.59,1636.4 L816.82,1636.4 L820.05,1636.4 L823.28,1636.4 L826.51,1636.4 L829.74,1636.4 L832.97,1636.4 L836.2,1636.4 L839.44,1636.4 L842.67,1636.4 L845.9,1636.4 L849.13,1636.4 L852.36,1636.4 L855.59,1636.4 L858.82,1636.4 L862.05,1636.4 L865.28,1636.4 L868.51,1636.4 L871.74,1636.4 L874.97,1636.4 L878.2,1636.4 L881.43,1636.4 L884.66,1636.4 L887.89,1636.4 L891.12,1636.4 L894.35,1636.4 L897.58,1636.4 L900.81,1636.4 L904.04,1636.4 L907.27,1636.4 L910.5,1636.4 L913.73,1636.4 L916.97,1636.4 L920.2,1636.4 L923.43,1636.4 L926.66,1636.4 L929.89,1636.4 L933.12,1636.4 L936.35,1636.4 L939.58,1636.4 L942.81,1636.4 L946.04,1636.4 L949.27,1636.4 L952.5,1636.4" fill="none" stroke="#0000ff" stroke-width="6.2"/>
<path d="M177.2,1600.29 L180.43,1600.33 L183.66,1600.37 L186.89,1600.41 L190.12,1600.45 L193.35,1600.49 L196.58,1600.54 L199.81,1600.58 L203.04,1600.62 L206.27,1600.67 L209.5,1600.71 L212.73,1600.76 L215.96,1600.81 L219.2,1600.85 L222.43,1600.9 L225.66,1600.95 L228.89,1601 L232.12,1601.06 L235.35,1601.11 L238.58,1601.16 L241.81,1601.22 L245.04,1601.27 L248.27,1601.33 L251.5,1601.39 L254.73,1601.45 L257.96,1601.51 L261.19,1601.58 L264.42,1601.64 L267.65,1601.71 L270.88,1601.77 L274.11,1601.84 L277.34,1601.91 L280.57,1601.99 L283.8,1602.06 L287.03,1602.14 L290.26,1602.21 L293.5,1602.29 L296.73,1602.37 L299.96,1602.46 L303.19,1602.54 L306.42,1602.63 L309.65,1602.72 L312.88,1602.81 L316.11,1602.91 L319.34,1603 L322.57,1603.1 L325.8,1603.2 L329.03,1603.31 L332.26,1603.42 L335.49,1603.53 L338.72,1603.64 L341.95,1603.76 L345.18,1603.88 L348.41,1604 L351.64,1604.13 L354.87,1604.26 L358.1,1604.39 L361.33,1604.53 L364.56,1604.68 L367.79,1604.82 L371.02,1604.98 L374.26,1605.13 L377.49,1605.29 L380.72,1605.46 L383.95,1605.63 L387.18,1605.81 L390.41,1605.99 L393.64,1606.18 L396.87,1606.38 L400.1,1606.58 L403.33,1606.79 L406.56,1607 L409.79,1607.22 L413.02,1607.45 L416.25,1607.69 L419.48,1607.94 L422.71,1608.19 L425.94,1608.46 L429.17,1608.73 L432.4,1609.01 L435.63,1609.3 L438.86,1609.61 L442.09,1609.92 L445.32,1610.24 L448.55,1610.58 L451.79,1610.93 L455.02,1611.29 L458.25,1611.66 L461.48,1612.04 L464.71,1612.44 L467.94,1612.85 L471.17,1613.28 L474.4,1613.72 L477.63,1614.17 L480.86,1614.63 L484.09,1615.11 L487.32,1615.61 L490.55,1616.12 L493.78,1616.64 L497.01,1617.18 L500.24,1617.72 L503.47,1618.28 L506.7,1618.86 L509.93,1619.44 L513.16,1620.03 L516.39,1620.63 L519.62,1621.24 L522.85,1621.85 L526.09,1622.46 L529.32,1623.08 L532.55,1623.7 L535.78,1624.31 L539.01,1624.92 L542.24,1625.53 L545.47,1626.12 L548.7,1626.71 L551.93,1627.28 L555.16,1627.84 L558.39,1628.38 L561.62,1628.9 L564.85,1629.41 L568.08,1629.89 L571.31,1630.35 L574.54,1630.8 L577.77,1631.21 L581,1631.61 L584.23,1631.99 L587.46,1632.34 L590.69,1632.67 L593.92,1632.97 L597.15,1633.26 L600.38,1633.53 L603.62,1633.78 L606.85,1634 L610.08,1634.22 L613.31,1634.41 L616.54,1634.59 L619.77,1634.75 L623,1634.9 L626.23,1635.04 L629.46,1635.17 L632.69,1635.28 L635.92,1635.39 L639.15,1635.48 L642.38,1635.57 L645.61,1635.65 L648.84,1635.72 L652.07,1635.78 L655.3,1635.84 L658.53,1635.9 L661.76,1635.95 L664.99,1635.99 L668.22,1636.03 L671.45,1636.06 L674.68,1636.1 L677.91,1636.13 L681.14,1636.15 L684.38,1636.18 L687.61,1636.2 L690.84,1636.22 L694.07,1636.24 L697.3,1636.25 L700.53,1636.27 L703.76,1636.28 L706.99,1636.29 L710.22,1636.3 L713.45,1636.31 L716.68,1636.32 L719.91,1636.33 L723.14,1636.34 L726.37,1636.34 L729.6,1636.35 L732.83,1636.35 L736.06,1636.36 L739.29,1636.36 L742.52,1636.37 L745.75,1636.37 L748.98,1636.37 L752.21,1636.37 L755.44,1636.38 L758.67,1636.38 L761.91,1636.38 L765.14,1636.38 L768.37,1636.38 L771.6,1636.39 L774.83,1636.39 L778.06,1636.39 L781.29,1636.39 L784.52,1636.39 L787.75,1636.39 L790.98,1636.39 L794.21,1636.39 L797.44,1636.39 L800.67,1636.39 L803.9,1636.4 L807.13,1636.4 L810.36,1636.4 L813.59,1636.4 L816.82,1636.4 L820.05,1636.4 L823.28,1636.4 L826.51,1636.4 L829.74,1636.4 L832.97,1636.4 L836.2,1636.4 L839.44,1636.4 L842.67,1636.4 L845.9,1636.4 L849.13,1636.4 L852.36,1636.4 L855.59,1636.4 L858.82,1636.4 L862.05,1636.4 L865.28,1636.4 L868.51,1636.4 L871.74,1636.4 L874.97,1636.4 L878.2,1636.4 L881.43,1636.4 L884.66,1636.4 L887.89,1636.4 L891.12,1636.4 L894.35,1636.4 L897.58,1636.4 L900.81,1636.4 L904.04,1636.4 L907.27,1636.4 L910.5,1636.4 L913.73,1636.4 L916.97,1636.4 L920.2,1636.4 L923.43,1636.4 L926.66,1636.4 L929.89,1636.4 L933.12,1636.4 L936.35,1636.4 L939.58,1636.4 L942.81,1636.4 L946.04,1636.4 L949.27,1636.4 L952.5,1636.4" fill="none" stroke="#00ff00" stroke-width="6.2" stroke-dasharray="22.3 22.3"/>
<path d="M177.2,1383.66 L180.43,1383.93 L183.66,1384.2 L186.89,1384.48 L190.12,1384.76 L193.35,1385.05 L196.58,1385.35 L199.81,1385.65 L203.04,1385.95 L206.27,1386.26 L209.5,1386.58 L212.73,1386.91 L215.96,1387.24 L219.2,1387.57 L222.43,1387.92 L225.66,1388.27 L228.89,1388.62 L232.12,1388.99 L235.35,1389.36 L238.58,1389.74 L241.81,1390.13 L245.04,1390.52 L248.27,1390.93 L251.5,1391.34 L254.73,1391.76 L257.96,1392.2 L261.19,1392.64 L264.42,1393.09 L267.65,1393.55 L270.88,1394.02 L274.11,1394.5 L277.34,1395 L280.57,1395.5 L283.8,1396.02 L287.03,1396.55 L290.26,1397.09 L293.5,1397.65 L296.73,1398.21 L299.96,1398.8 L303.19,1399.39 L306.42,1400.01 L309.65,1400.63 L312.88,1401.28 L316.11,1401.94 L319.34,1402.62 L322.57,1403.31 L325.8,1404.03 L329.03,1404.76 L332.26,1405.52 L335.49,1406.29 L338.72,1407.09 L341.95,1407.91 L345.18,1408.75 L348.41,1409.61 L351.64,1410.5 L354.87,1411.42 L358.1,1412.36 L361.33,1413.34 L364.56,1414.34 L367.79,1415.37 L371.02,1416.43 L374.26,1417.53 L377.49,1418.66 L380.72,1419.82 L383.95,1421.02 L387.18,1422.26 L390.41,1423.55 L393.64,1424.87 L396.87,1426.23 L400.1,1427.64 L403.33,1429.1 L406.56,1430.61 L409.79,1432.17 L413.02,1433.78 L416.25,1435.44 L419.48,1437.17 L422.71,1438.95 L425.94,1440.8 L429.17,1442.71 L432.4,1444.68 L435.63,1446.73 L438.86,1448.85 L442.09,1451.04 L445.32,1453.31 L448.55,1455.66 L451.79,1458.09 L455.02,1460.6 L458.25,1463.21 L461.48,1465.9 L464.71,1468.68 L467.94,1471.56 L471.17,1474.54 L474.4,1477.61 L477.63,1480.77 L480.86,1484.04 L484.09,1487.4 L487.32,1490.87 L490.55,1494.43 L493.78,1498.08 L497.01,1501.83 L500.24,1505.67 L503.47,1509.59 L506.7,1513.59 L509.93,1517.67 L513.16,1521.81 L516.39,1526.01 L519.62,1530.25 L522.85,1534.53 L526.09,1538.84 L529.32,1543.16 L532.55,1547.48 L535.78,1551.78 L539.01,1556.05 L542.24,1560.28 L545.47,1564.44 L548.7,1568.54 L551.93,1572.54 L555.16,1576.45 L558.39,1580.24 L561.62,1583.91 L564.85,1587.44 L568.08,1590.83 L571.31,1594.08 L574.54,1597.17 L577.77,1600.1 L581,1602.88 L584.23,1605.5 L587.46,1607.96 L590.69,1610.27 L593.92,1612.42 L597.15,1614.43 L600.38,1616.3 L603.62,1618.03 L606.85,1619.63 L610.08,1621.11 L613.31,1622.47 L616.54,1623.72 L619.77,1624.87 L623,1625.92 L626.23,1626.89 L629.46,1627.77 L632.69,1628.57 L635.92,1629.31 L639.15,1629.97 L642.38,1630.58 L645.61,1631.13 L648.84,1631.63 L652.07,1632.09 L655.3,1632.5 L658.53,1632.88 L661.76,1633.22 L664.99,1633.52 L668.22,1633.8 L671.45,1634.05 L674.68,1634.28 L677.91,1634.49 L681.14,1634.67 L684.38,1634.84 L687.61,1634.99 L690.84,1635.13 L694.07,1635.26 L697.3,1635.37 L700.53,1635.47 L703.76,1635.56 L706.99,1635.64 L710.22,1635.72 L713.45,1635.78 L716.68,1635.84 L719.91,1635.9 L723.14,1635.95 L726.37,1635.99 L729.6,1636.03 L732.83,1636.07 L736.06,1636.1 L739.29,1636.13 L742.52,1636.16 L745.75,1636.18 L748.98,1636.2 L752.21,1636.22 L755.44,1636.24 L758.67,1636.26 L761.91,1636.27 L765.14,1636.28 L768.37,1636.29 L771.6,1636.3 L774.83,1636.31 L778.06,1636.32 L781.29,1636.33 L784.52,1636.34 L787.75,1636.34 L790.98,1636.35 L794.21,1636.35 L797.44,1636.36 L800.67,1636.36 L803.9,1636.37 L807.13,1636.37 L810.36,1636.37 L813.59,1636.38 L816.82,1636.38 L820.05,1636.38 L823.28,1636.38 L826.51,1636.38 L829.74,1636.39 L832.97,1636.39 L836.2,1636.39 L839.44,1636.39 L842.67,1636.39 L845.9,1636.39 L849.13,1636.39 L852.36,1636.39 L855.59,1636.39 L858.82,1636.39 L862.05,1636.39 L865.28,1636.4 L868.51,1636.4 L871.74,1636.4 L874.97,1636.4 L878.2,1636.4 L881.43,1636.4 L884.66,1636.4 L887.89,1636.4 L891.12,1636.4 L894.35,1636.4 L897.58,1636.4 L900.81,1636.4 L904.04,1636.4 L907.27,1636.4 L910.5,1636.4 L913.73,1636.4 L916.97,1636.4 L920.2,1636.4 L923.43,1636.4 L926.66,1636.4 L929.89,1636.4 L933.12,1636.4 L936.35,1636.4 L939.58,1636.4 L942.81,1636.4 L946.04,1636.4 L949.27,1636.4 L952.5,1636.4" fill="none" stroke="#000" stroke-width="5.8" stroke-dasharray="5.6 5.5"/>
<path d="M177.2,1527.74 L180.43,1527.47 L183.66,1527.2 L186.89,1526.92 L190.12,1526.64 L193.35,1526.35 L196.58,1526.05 L199.81,1525.75 L203.04,1525.45 L206.27,1525.14 L209.5,1524.82 L212.73,1524.49 L215.96,1524.16 L219.2,1523.83 L222.43,1523.48 L225.66,1523.13 L228.89,1522.78 L232.12,1522.41 L235.35,1522.04 L238.58,1521.66 L241.81,1521.27 L245.04,1520.88 L248.27,1520.47 L251.5,1520.06 L254.73,1519.64 L257.96,1519.2 L261.19,1518.76 L264.42,1518.31 L267.65,1517.85 L270.88,1517.38 L274.11,1516.9 L277.34,1516.4 L280.57,1515.9 L283.8,1515.38 L287.03,1514.85 L290.26,1514.31 L293.5,1513.75 L296.73,1513.19 L299.96,1512.6 L303.19,1512.01 L306.42,1511.39 L309.65,1510.77 L312.88,1510.12 L316.11,1509.46 L319.34,1508.78 L322.57,1508.09 L325.8,1507.37 L329.03,1506.64 L332.26,1505.88 L335.49,1505.11 L338.72,1504.31 L341.95,1503.49 L345.18,1502.65 L348.41,1501.79 L351.64,1500.9 L354.87,1499.98 L358.1,1499.04 L361.33,1498.06 L364.56,1497.06 L367.79,1496.03 L371.02,1494.97 L374.26,1493.87 L377.49,1492.74 L380.72,1491.58 L383.95,1490.38 L387.18,1489.14 L390.41,1487.85 L393.64,1486.53 L396.87,1485.17 L400.1,1483.76 L403.33,1482.3 L406.56,1480.79 L409.79,1479.23 L413.02,1477.62 L416.25,1475.96 L419.48,1474.23 L422.71,1472.45 L425.94,1470.6 L429.17,1468.69 L432.4,1466.72 L435.63,1464.67 L438.86,1462.55 L442.09,1460.36 L445.32,1458.09 L448.55,1455.74 L451.79,1453.31 L455.02,1450.8 L458.25,1448.19 L461.48,1445.5 L464.71,1442.72 L467.94,1439.84 L471.17,1436.86 L474.4,1433.79 L477.63,1430.63 L480.86,1427.36 L484.09,1424 L487.32,1420.53 L490.55,1416.97 L493.78,1413.32 L497.01,1409.57 L500.24,1405.73 L503.47,1401.81 L506.7,1397.81 L509.93,1393.73 L513.16,1389.59 L516.39,1385.39 L519.62,1381.15 L522.85,1376.87 L526.09,1372.56 L529.32,1368.24 L532.55,1363.92 L535.78,1359.62 L539.01,1355.35 L542.24,1351.12 L545.47,1346.96 L548.7,1342.86 L551.93,1338.86 L555.16,1334.95 L558.39,1331.16 L561.62,1327.49 L564.85,1323.96 L568.08,1320.57 L571.31,1317.32 L574.54,1314.23 L577.77,1311.3 L581,1308.52 L584.23,1305.9 L587.46,1303.44 L590.69,1301.13 L593.92,1298.98 L597.15,1296.97 L600.38,1295.1 L603.62,1293.37 L606.85,1291.77 L610.08,1290.29 L613.31,1288.93 L616.54,1287.68 L619.77,1286.53 L623,1285.48 L626.23,1284.51 L629.46,1283.63 L632.69,1282.83 L635.92,1282.09 L639.15,1281.43 L642.38,1280.82 L645.61,1280.27 L648.84,1279.77 L652.07,1279.31 L655.3,1278.9 L658.53,1278.52 L661.76,1278.18 L664.99,1277.88 L668.22,1277.6 L671.45,1277.35 L674.68,1277.12 L677.91,1276.91 L681.14,1276.73 L684.38,1276.56 L687.61,1276.41 L690.84,1276.27 L694.07,1276.14 L697.3,1276.03 L700.53,1275.93 L703.76,1275.84 L706.99,1275.76 L710.22,1275.68 L713.45,1275.62 L716.68,1275.56 L719.91,1275.5 L723.14,1275.45 L726.37,1275.41 L729.6,1275.37 L732.83,1275.33 L736.06,1275.3 L739.29,1275.27 L742.52,1275.24 L745.75,1275.22 L748.98,1275.2 L752.21,1275.18 L755.44,1275.16 L758.67,1275.14 L761.91,1275.13 L765.14,1275.12 L768.37,1275.11 L771.6,1275.1 L774.83,1275.09 L778.06,1275.08 L781.29,1275.07 L784.52,1275.06 L787.75,1275.06 L790.98,1275.05 L794.21,1275.05 L797.44,1275.04 L800.67,1275.04 L803.9,1275.03 L807.13,1275.03 L810.36,1275.03 L813.59,1275.02 L816.82,1275.02 L820.05,1275.02 L823.28,1275.02 L826.51,1275.02 L829.74,1275.01 L832.97,1275.01 L836.2,1275.01 L839.44,1275.01 L842.67,1275.01 L845.9,1275.01 L849.13,1275.01 L852.36,1275.01 L855.59,1275.01 L858.82,1275.01 L862.05,1275.01 L865.28,1275 L868.51,1275 L871.74,1275 L874.97,1275 L878.2,1275 L881.43,1275 L884.66,1275 L887.89,1275 L891.12,1275 L894.35,1275 L897.58,1275 L900.81,1275 L904.04,1275 L907.27,1275 L910.5,1275 L913.73,1275 L916.97,1275 L920.2,1275 L923.43,1275 L926.66,1275 L929.89,1275 L933.12,1275 L936.35,1275 L939.58,1275 L942.81,1275 L946.04,1275 L949.27,1275 L952.5,1275" fill="none" stroke="#000" stroke-width="6.2"/>
</g>
<path d="M177.2,1275.0 H952.5 V1636.4 H177.2 Z" fill="none" stroke="#262626" stroke-width="1.3"/>
<path d="M332.26,1636.4 v-8.6 M332.26,1275.0 v8.6 M487.32,1636.4 v-8.6 M487.32,1275.0 v8.6 M642.38,1636.4 v-8.6 M642.38,1275.0 v8.6 M797.44,1636.4 v-8.6 M797.44,1275.0 v8.6 M177.2,1564.12 h8.4 M952.5,1564.12 h-8.4 M177.2,1491.84 h8.4 M952.5,1491.84 h-8.4 M177.2,1419.56 h8.4 M952.5,1419.56 h-8.4 M177.2,1347.28 h8.4 M952.5,1347.28 h-8.4 " stroke="#262626" stroke-width="1.3" fill="none"/>
<g transform="translate(151.3,1264.5)" fill="none" stroke="#333" stroke-width="1.55"><path d="M0.78,3.4 L6.9,0.78 V21.6"/></g>
<g transform="translate(128.4,1336.78)" fill="none" stroke="#333" stroke-width="1.55"><path d="M6.7,0.78 C10.27,0.78 12.65,4.91 12.65,11.1 C12.65,17.29 10.27,21.42 6.7,21.42 C3.13,21.42 0.75,17.29 0.75,11.1 C0.75,4.91 3.13,0.78 6.7,0.78 Z"/></g>
<rect x="145.9" y="1355.78" width="1.35" height="2.9" fill="#333"/>
<g transform="translate(152.1,1336.78)" fill="none" stroke="#333" stroke-width="1.55"><ellipse cx="6.05" cy="5.22" rx="4.57" ry="4.44"/><ellipse cx="6.05" cy="16.3" rx="5.27" ry="5.12"/></g>
<g transform="translate(128.4,1409.06)" fill="none" stroke="#333" stroke-width="1.55"><path d="M6.7,0.78 C10.27,0.78 12.65,4.91 12.65,11.1 C12.65,17.29 10.27,21.42 6.7,21.42 C3.13,21.42 0.75,17.29 0.75,11.1 C0.75,4.91 3.13,0.78 6.7,0.78 Z"/></g>
<rect x="145.9" y="1428.06" width="1.35" height="2.9" fill="#333"/>
<g transform="translate(152.1,1409.06)" fill="none" stroke="#333" stroke-width="1.55"><path d="M6.5,8.58 C9.82,8.58 12.22,11.28 12.22,15 C12.22,18.72 9.82,21.42 6.5,21.42 C3.18,21.42 0.78,18.72 0.78,15 C0.78,11.28 3.18,8.58 6.5,8.58 Z"/><path d="M0.78,15 C0.78,5 3.2,0.78 6.8,0.78 C9.5,0.78 11.3,2.2 12.0,4.6"/></g>
<g transform="translate(128.4,1481.34)" fill="none" stroke="#333" stroke-width="1.55"><path d="M6.7,0.78 C10.27,0.78 12.65,4.91 12.65,11.1 C12.65,17.29 10.27,21.42 6.7,21.42 C3.13,21.42 0.75,17.29 0.75,11.1 C0.75,4.91 3.13,0.78 6.7,0.78 Z"/></g>
<rect x="145.9" y="1500.34" width="1.35" height="2.9" fill="#333"/>
<g transform="translate(152.1,1481.34)" fill="none" stroke="#333" stroke-width="1.55"><path d="M8.7,22.2 V0.78 L0.78,15.3 H11.8"/></g>
<g transform="translate(128.4,1553.62)" fill="none" stroke="#333" stroke-width="1.55"><path d="M6.7,0.78 C10.27,0.78 12.65,4.91 12.65,11.1 C12.65,17.29 10.27,21.42 6.7,21.42 C3.13,21.42 0.75,17.29 0.75,11.1 C0.75,4.91 3.13,0.78 6.7,0.78 Z"/></g>
<rect x="145.9" y="1572.62" width="1.35" height="2.9" fill="#333"/>
<g transform="translate(152.1,1553.62)" fill="none" stroke="#333" stroke-width="1.55"><path d="M0.9,5.0 C1.4,2.2 3.4,0.78 6.2,0.78 C9.2,0.78 11.1,2.8 11.1,5.6 C11.1,8.4 9.2,10.2 6.6,12.1 C3,14.6 0.9,17.4 0.78,21.42 H11.8"/></g>
<g transform="translate(150.5,1625.9)" fill="none" stroke="#333" stroke-width="1.55"><path d="M6.7,0.78 C10.27,0.78 12.65,4.91 12.65,11.1 C12.65,17.29 10.27,21.42 6.7,21.42 C3.13,21.42 0.75,17.29 0.75,11.1 C0.75,4.91 3.13,0.78 6.7,0.78 Z"/></g>
<text transform="translate(51.1,1449.3) rotate(-90)" x="0" y="0" font-size="28.35" fill="#595959" text-anchor="middle">Tissue component</text>
<text transform="translate(85.2,1449.3) rotate(-90)" x="0" y="0" font-size="28.35" fill="#595959" text-anchor="middle">volume fraction, <tspan font-style="italic">f</tspan><tspan font-style="italic" font-size="19.0" dy="6.6">i</tspan></text>
<text x="278.03" y="1680.8" font-size="28.35" fill="#000">Time under sustained tension in</text>
<text x="685.29" y="1680.8" font-size="28.35" fill="#000" font-weight="bold">e</text>
<polygon points="709.25,1687.15 709.25,1673.65 707.78,1673.65 704.15,1677.29 704.15,1679.02 707.52,1675.78 707.52,1687.15" fill="#000"/>
<text x="720.47" y="1680.8" font-size="28.35" fill="#000">direction</text>
<clipPath id="lc"><rect x="709.6" y="1330" width="70.8" height="260"/></clipPath>
<g clip-path="url(#lc)" stroke-width="7" fill="none" stroke-linecap="round">
<line x1="700" y1="1355" x2="790" y2="1355" stroke="#ff0000"/>
<line x1="700" y1="1408" x2="790" y2="1408" stroke="#0000ff"/>
<line x1="706" y1="1460.4" x2="790" y2="1460.4" stroke="#00ff00" stroke-dasharray="28.5 25.5"/>
<line x1="711.7" y1="1513" x2="790" y2="1513" stroke="#000" stroke-width="6.8" stroke-dasharray="5 7"/>
<line x1="700" y1="1566" x2="790" y2="1566" stroke="#000" stroke-linecap="butt"/>
</g>
<text x="803.04" y="1363" font-size="28.35" fill="#000" font-style="italic">f</text>
<polygon points="819.05,1369.45 819.05,1355.85 817.57,1355.85 814.35,1359.52 814.35,1361.26 817.31,1358 817.31,1369.45" fill="#000"/>
<text x="803.04" y="1416.4" font-size="28.35" fill="#000" font-style="italic">f</text>
<text x="811.64" y="1423" font-size="19" fill="#000">2</text>
<text x="803.04" y="1467.6" font-size="28.35" fill="#000" font-style="italic">f</text>
<text x="811.88" y="1474.4" font-size="19" fill="#000">3</text>
<text x="803.04" y="1518" font-size="28.35" fill="#000" font-style="italic">f</text>
<text x="811.19" y="1525" font-size="19" fill="#000">c</text>
<text x="803.24" y="1572.6" font-size="28.35" fill="#000" font-style="italic">f</text>
<polygon points="818.25,1579.45 818.25,1565.95 816.78,1565.95 813.25,1569.59 813.25,1571.32 816.52,1568.08 816.52,1579.45" fill="#000"/>
<text x="822.82" y="1572.6" font-size="28.35" fill="#000">+</text>
<text x="838.14" y="1572.6" font-size="28.35" fill="#000" font-style="italic">f</text>
<text x="846.24" y="1579.7" font-size="19" fill="#000">2</text>
<text x="857.72" y="1572.6" font-size="28.35" fill="#000">+</text>
<text x="872.84" y="1572.6" font-size="28.35" fill="#000" font-style="italic">f</text>
<text x="880.98" y="1579.7" font-size="19" fill="#000">3</text>
</svg>
</body></html>
